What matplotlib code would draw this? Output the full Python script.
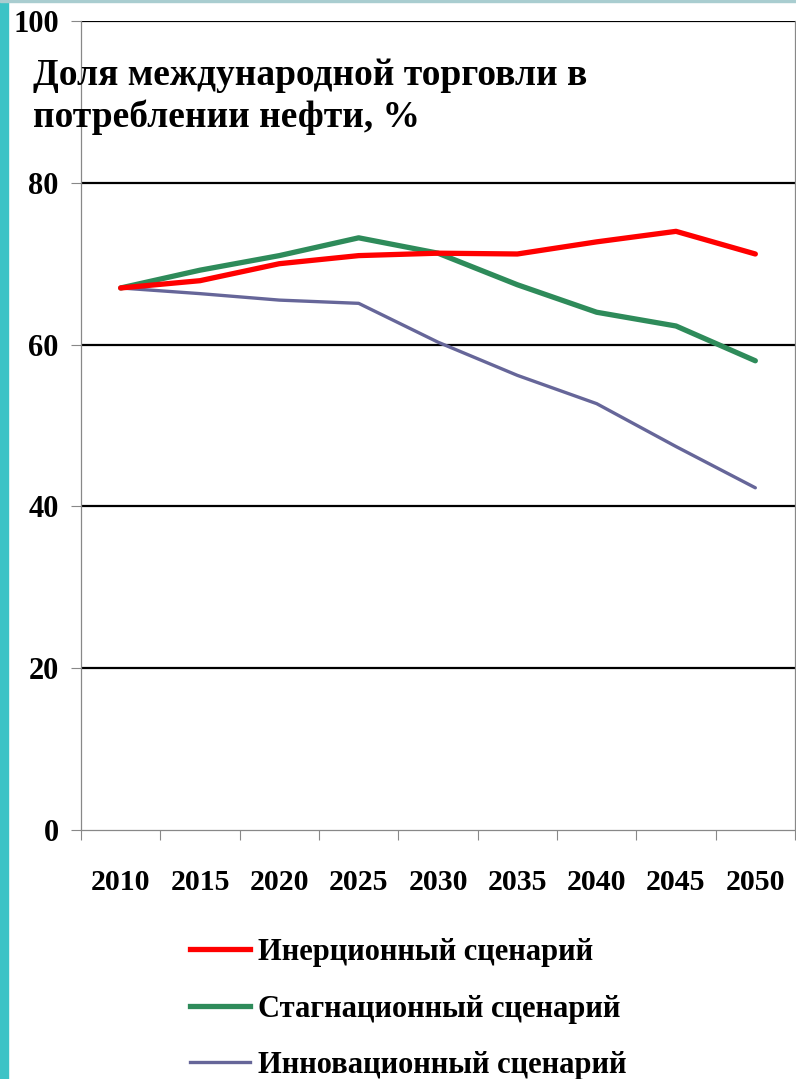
import matplotlib
matplotlib.use('Agg')
import matplotlib.pyplot as plt
from matplotlib.patches import Rectangle
from matplotlib.lines import Line2D

years = ['2010', '2015', '2020', '2025', '2030', '2035', '2040', '2045', '2050']
inertial = [67.0, 67.9, 70.0, 71.0, 71.3, 71.2, 72.7, 74.0, 71.2]
stagnation = [67.0, 69.2, 71.0, 73.2, 71.3, 67.4, 64.0, 62.3, 58.0]
innovation = [67.0, 66.3, 65.5, 65.1, 60.3, 56.2, 52.7, 47.4, 42.3]
names = ['Инерционный сценарий', 'Стагнационный сценарий', 'Инновационный сценарий']
yticks = [0, 20, 40, 60, 80, 100]

W, H = 796, 1079
fig = plt.figure(figsize=(W / 100, H / 100), dpi=100)
plt.rcParams['font.family'] = ['Liberation Serif', 'DejaVu Serif']
plt.rcParams['font.weight'] = 'bold'

# slide background strip on the left and top
fig.patches.append(Rectangle((0, 0), 8 / W, 1, transform=fig.transFigure,
                             color='#3cc3c6', zorder=0))
fig.patches.append(Rectangle((0, 1 - 2 / H), 1, 2 / H, transform=fig.transFigure,
                             color='#a9cdd0', zorder=0))

ax = fig.add_axes([81 / W, 1 - 830 / H, 714 / W, 809 / H])
x = list(range(len(years)))

for v in yticks[1:]:
    ax.axhline(v, color='black', lw=1.6, zorder=1)

ax.plot(x, inertial, color='#ff0000', lw=3.8, solid_capstyle='round', zorder=4)
ax.plot(x, stagnation, color='#2e8b5a', lw=3.8, solid_capstyle='round', zorder=3)
ax.plot(x, innovation, color='#666699', lw=2.4, solid_capstyle='round', zorder=2)

ax.set_xlim(-0.5, len(years) - 0.5)
ax.set_ylim(0, 100)
ax.set_yticks(yticks)
ax.set_yticklabels([str(v) for v in yticks], fontsize=22, fontweight='bold')
ax.tick_params(axis='y', length=7, width=0.8, color='#888888', pad=9)

ax.set_xticks(x)
ax.set_xticklabels(years, fontsize=21.5, fontweight='bold')
ax.set_xticks([i - 0.5 for i in range(len(years) + 1)], minor=True)
ax.tick_params(axis='x', which='major', length=0, pad=28)
ax.tick_params(axis='x', which='minor', length=7, width=0.8, color='#888888')

for s in ['left', 'bottom', 'right']:
    ax.spines[s].set_color('#888888')
    ax.spines[s].set_linewidth(0.9)
ax.spines['top'].set_visible(False)

fig.text(33 / W, 1 - 58 / H, 'Доля международной торговли в\nпотреблении нефти, %',
         fontsize=27, fontweight='bold', va='top', ha='left', linespacing=1.25)

handles = [Line2D([], [], color='#ff0000', lw=3.8),
           Line2D([], [], color='#2e8b5a', lw=3.8),
           Line2D([], [], color='#666699', lw=2.4)]
fig.legend(handles, names, loc='upper left', bbox_to_anchor=(190 / W, 1 - 938 / H),
           frameon=False, prop={'size': 22, 'weight': 'bold'}, handlelength=1.96,
           handletextpad=0.26, labelspacing=0.9, borderpad=0, borderaxespad=0)

fig.savefig('out.png', dpi=100)
